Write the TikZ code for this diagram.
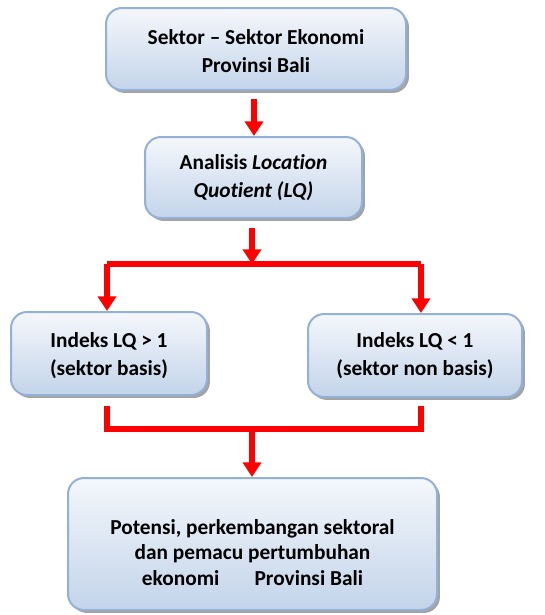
\documentclass[tikz,border=0pt]{standalone}
\usepackage{fontspec}
\setmainfont[Ligatures={NoCommon,NoRequired,NoContextual}]{Carlito}
\usepackage{tikz}
\usetikzlibrary{positioning, arrows.meta, shadows}
\definecolor{boxline}{HTML}{93B1D6}
\definecolor{boxtop}{HTML}{F4F7FB}
\definecolor{boxbottom}{HTML}{C3D4EA}
\tikzset{
    box/.style={draw=boxline, line width=1.5pt, rounded corners=12pt, top color=boxtop, bottom color=boxbottom,
        drop shadow={shadow xshift=2.2pt, shadow yshift=-2.2pt, fill=black!45, opacity=0.8},
        align=center, font=\fontsize{16}{21}\selectfont\bfseries, text=black}, % the blue boxes
    flowline/.style={draw=red, line width=3.8pt, line join=miter}, % plain red line
    flow/.style={flowline, -{Triangle[width=13.5pt, length=11pt]}}, % red line with arrow
}

\begin{document}
\begin{tikzpicture}[x=0.75pt, y=-0.75pt]
    \useasboundingbox (0,0) rectangle (545,615);
    \node[box, minimum width=225pt, minimum height=61.5pt] (sektor) at (256,49) {\rule{0pt}{14pt}Sektor -- Sektor Ekonomi\\Provinsi Bali};
    \node[box, minimum width=162.75pt, minimum height=60.75pt] (analisis) at (253.5,177.5) {Analisis \textit{Location}\\\textit{Quotient (LQ)}};
    \node[box, minimum width=147pt, minimum height=62.25pt] (basis) at (109,353.5) {\rule{0pt}{14pt}Indeks LQ > 1\\(sektor basis)};
    \node[box, minimum width=160.5pt, minimum height=62.25pt] (nonbasis) at (415,355.5) {Indeks LQ < 1\\(sektor non basis)};
    \node[box, minimum width=276.75pt, minimum height=99pt, font=\fontsize{16}{19}\selectfont\bfseries] (potensi) at (252.5,544) {\rule{0pt}{24pt}Potensi, perkembangan sektoral\\dan pemacu pertumbuhan\\ekonomi \hspace{1.2em} Provinsi Bali};
    \coordinate (split) at (252,264);
    \coordinate (splitL) at (107,264);
    \coordinate (splitR) at (421,264);
    \coordinate (join) at (252,429);
    \coordinate (joinL) at (107,429);
    \coordinate (joinR) at (421,429);
    % arrows
    \draw[flow, shorten <=6pt] (sektor.south -| 254,0) -- (analisis.north -| 254,0);
    \draw[flow, shorten <=6.5pt] (analisis.south -| split) -- (split);
    \draw[flowline] (splitL) -- (splitR);
    \draw[flow] (splitL) -- (splitL |- basis.north);
    \draw[flow] (splitR) -- (splitR |- nonbasis.north);
    \draw[flowline, shorten <=7.5pt, shorten >=6pt] (joinL |- basis.south) -- (joinL) -- (joinR) -- (joinR |- nonbasis.south);
    \draw[flow] (join) -- (potensi.north -| join);
\end{tikzpicture}
\end{document}
